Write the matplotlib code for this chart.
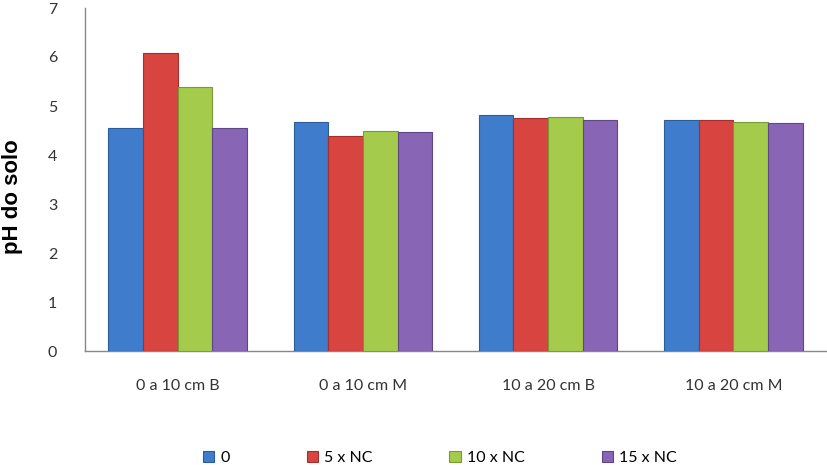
import numpy as np
import matplotlib
matplotlib.use("Agg")
import matplotlib.pyplot as plt

categories = ["0 a 10 cm B", "0 a 10 cm M", "10 a 20 cm B", "10 a 20 cm M"]
series_names = ["0", "5 x NC", "10 x NC", "15 x NC"]
ph_0 = [4.56, 4.67, 4.82, 4.71]
ph_5nc = [6.08, 4.39, 4.76, 4.71]
ph_10nc = [5.39, 4.49, 4.78, 4.67]
ph_15nc = [4.56, 4.46, 4.71, 4.65]
yticks = [0, 1, 2, 3, 4, 5, 6, 7]

colors = ["#3F7CCB", "#D8443F", "#A5CB4C", "#8865B5"]
edges = ["#2D5C9A", "#A2302D", "#789A35", "#5F4785"]

plt.rcParams['font.family'] = ['Lato', 'DejaVu Sans']

fig = plt.figure(figsize=(8.27, 4.65), dpi=100)
ax = fig.add_axes([85 / 827, 1 - 351 / 465, 741 / 827, 343 / 465])

x = np.arange(len(categories))
w = 0.187
for i, vals in enumerate([ph_0, ph_5nc, ph_10nc, ph_15nc]):
    ax.bar(x + (i - 1.5) * w, vals, width=w, color=colors[i],
           edgecolor=edges[i], linewidth=0.8, label=series_names[i], zorder=3)

ax.set_xlim(-0.5, len(categories) - 0.5)
ax.set_ylim(0, 7)
ax.set_yticks(yticks)
ax.set_xticks(x)
ax.set_xticklabels(categories)
ax.tick_params(axis='both', length=0, labelsize=11.5, colors="#333333")
ax.tick_params(axis='y', pad=20)
ax.tick_params(axis='x', pad=20)
for s in ["top", "right"]:
    ax.spines[s].set_visible(False)
for s in ["left", "bottom"]:
    ax.spines[s].set_color("#888888")
    ax.spines[s].set_linewidth(1.0)

ax.set_ylabel("pH do solo", family=["Liberation Sans", "DejaVu Sans"],
              fontweight="bold", fontsize=16)
ax.yaxis.set_label_coords(-0.083, 0.45)

fig.legend(loc="center", bbox_to_anchor=(0.532, 0.015), ncol=4, frameon=False,
           fontsize=11.5, handlelength=0.7, handleheight=0.7, handletextpad=0.4,
           columnspacing=4.8)

fig.savefig("out.png", dpi=100)
